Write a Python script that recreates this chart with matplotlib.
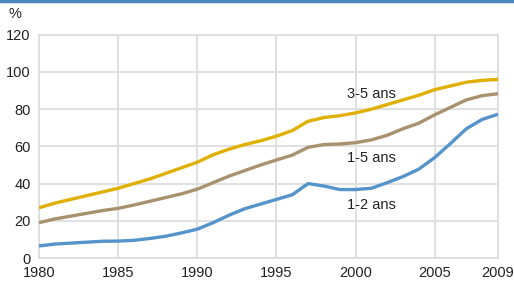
import matplotlib.pyplot as plt

plt.rcParams['font.family'] = ['Liberation Sans', 'DejaVu Sans']

years = list(range(1980, 2010))
ans_3_5 = [27, 29.5, 31.5, 33.5, 35.5, 37.5, 40, 42.5, 45.5, 48.5, 51.5, 55.5, 58.5, 61, 63, 65.5, 68.5, 73.5, 75.5, 76.5, 78, 80, 82.5, 85, 87.5, 90.5, 92.5, 94.5, 95.5, 96]
ans_1_5 = [19, 21, 22.5, 24, 25.5, 26.7, 28.5, 30.5, 32.5, 34.5, 37, 40.5, 44, 47, 50, 52.7, 55.3, 59.5, 61, 61.3, 62, 63.5, 66, 69.5, 72.5, 77, 81, 85, 87.3, 88.3]
ans_1_2 = [6.5, 7.5, 8, 8.5, 9, 9.1, 9.5, 10.5, 11.7, 13.5, 15.5, 19, 23, 26.5, 29, 31.5, 34, 40, 38.7, 36.8, 36.8, 37.5, 40.5, 43.8, 47.8, 54, 61.6, 69.5, 74.5, 77.3]

labels = ['3-5 ans', '1-5 ans', '1-2 ans']
label_pos = [(2001, 88), (2001, 54), (2001, 28.3)]

c_yellow = '#E0B000'
c_brown = '#A8916E'
c_blue = '#5593CB'

fig = plt.figure(figsize=(5.14, 2.84), dpi=100)
ax = fig.add_axes([0.0759, 0.0915, 0.893, 0.786])

ax.plot(years, ans_1_2, color=c_blue, lw=2.4, solid_capstyle='butt', zorder=3)
ax.plot(years, ans_1_5, color=c_brown, lw=2.4, solid_capstyle='butt', zorder=3)
ax.plot(years, ans_3_5, color=c_yellow, lw=2.4, solid_capstyle='butt', zorder=3)

for txt, (x, y) in zip(labels, label_pos):
    ax.text(x, y, txt, fontsize=10.5, color='#222222', ha='center', va='center')

ax.set_xlim(1980, 2009)
ax.set_ylim(0, 120)
ax.set_xticks([1980, 1985, 1990, 1995, 2000, 2005, 2009])
ax.set_yticks(range(0, 121, 20))
ax.tick_params(length=0, labelsize=10.5, colors='#222222', pad=6)
ax.grid(True, color='#DDDDDD', lw=1.3)
ax.set_axisbelow(True)
for s in ax.spines.values():
    s.set_color('#DDDDDD')
    s.set_linewidth(1.3)

fig.text(15 / 514, 1 - 14 / 284, '%', fontsize=10.5, color='#222222', ha='center', va='center')
fig.add_artist(plt.Line2D([0, 1], [0.995, 0.995], color='#4A86C0', lw=2.5, transform=fig.transFigure))

fig.savefig('out.png', dpi=100)
